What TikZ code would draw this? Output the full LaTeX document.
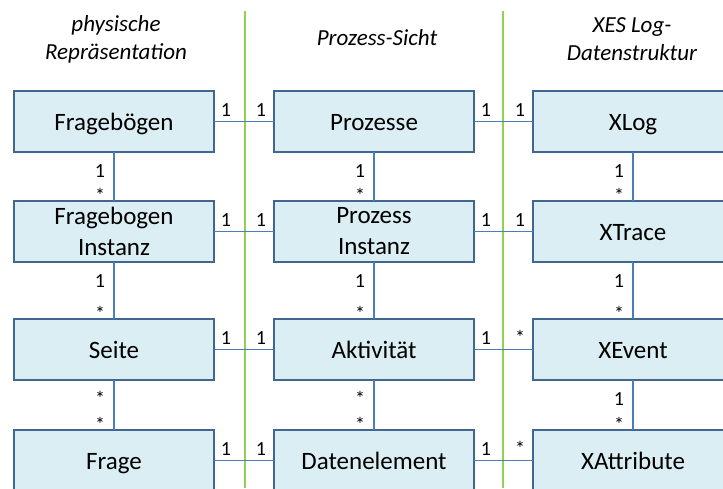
\documentclass[tikz,border=0pt]{standalone}
\usepackage{fontspec}
\setmainfont{Carlito}
\definecolor{boxfill}{HTML}{DAEEF3}
\definecolor{boxline}{HTML}{41668F}
\definecolor{linkblue}{HTML}{4A7EBB}
\definecolor{divgreen}{HTML}{92D050}
\begin{document}
\begin{tikzpicture}[x=1pt,y=-1pt,
  entity/.style={draw=boxline, line width=2pt, fill=boxfill,
    minimum width=200pt, minimum height=61pt, inner sep=0pt, outer sep=0pt,
    align=center, font=\fontsize{25}{31}\selectfont},
  oneline/.style={entity, text height=18pt, text depth=0pt},
  assoc/.style={draw=linkblue, line width=1.3pt},
  mult/.style={font=\fontsize{20}{20}\selectfont, inner sep=0pt, anchor=base},
  hs/.style={mult, at start, xshift=12pt, yshift=5pt},
  he/.style={mult, at end, xshift=-13pt, yshift=5pt},
  vs/.style={mult, at start, xshift=-14pt, yshift=-25pt},
  ve/.style={mult, at end, xshift=-14pt, yshift=-1pt},
  divider/.style={draw=divgreen, line width=1.3pt},
  heading/.style={font=\fontsize{23}{28}\selectfont\itshape, align=center}]

\clip (0,0) rectangle (723,488);
\fill[white] (0,0) rectangle (723,488);

% column dividers
\coordinate (d1t) at (245,11);
\coordinate (d1b) at (245,488);
\coordinate (d2t) at (503,11);
\coordinate (d2b) at (503,488);
\draw[divider] (d1t) -- (d1b);
\draw[divider] (d2t) -- (d2b);

% column headings
\node[heading] (h1) at (116,39) {physische\\Repräsentation};
\node[heading, anchor=base] (h2) at (377,45) {Prozess-Sicht};
\node[heading] (h3) at (632,39) {XES Log-\\Datenstruktur};

% entities
\node[oneline] (fb) at (114,121.5) {Fragebögen};
\node[entity]  (fi) at (114,231.5) {Fragebogen\\Instanz};
\node[oneline] (se) at (114,349.5) {Seite};
\node[oneline] (fr) at (114,460.5) {Frage};

\node[oneline] (pr) at (374,121.5) {Prozesse};
\node[entity]  (pi) at (374,231.5) {Prozess\\Instanz};
\node[oneline] (ak) at (374,349.5) {Aktivität};
\node[oneline] (de) at (374,460.5) {Datenelement};

\node[oneline] (xl) at (633,121.5) {XLog};
\node[oneline] (xt) at (633,231.5) {XTrace};
\node[oneline] (xe) at (633,349.5) {XEvent};
\node[oneline] (xa) at (633,460.5) {XAttribute};

% horizontal associations
\draw[assoc] (fb.east) -- node[hs]{1} node[he]{1} (pr.west);
\draw[assoc] (fi.east) -- node[hs]{1} node[he]{1} (pi.west);
\draw[assoc] (se.east) -- node[hs]{1} node[he]{1} (ak.west);
\draw[assoc] (fr.east) -- node[hs]{1} node[he]{1} (de.west);

\draw[assoc] (pr.east) -- node[hs]{1} node[he]{1} (xl.west);
\draw[assoc] (pi.east) -- node[hs]{1} node[he]{1} (xt.west);
\draw[assoc] (ak.east) -- node[hs]{1} node[he]{*} (xe.west);
\draw[assoc] (de.east) -- node[hs]{1} node[he]{*} (xa.west);

% vertical associations
\draw[assoc] (fb.south) -- node[vs]{1} node[ve]{*} (fi.north);
\draw[assoc] (fi.south) -- node[vs]{1} node[ve]{*} (se.north);
\draw[assoc] (se.south) -- node[vs]{*} node[ve]{*} (fr.north);

\draw[assoc] (pr.south) -- node[vs]{1} node[ve]{*} (pi.north);
\draw[assoc] (pi.south) -- node[vs]{1} node[ve]{*} (ak.north);
\draw[assoc] (ak.south) -- node[vs]{*} node[ve]{*} (de.north);

\draw[assoc] (xl.south) -- node[vs]{1} node[ve]{*} (xt.north);
\draw[assoc] (xt.south) -- node[vs]{1} node[ve]{*} (xe.north);
\draw[assoc] (xe.south) -- node[vs]{1} node[ve]{*} (xa.north);
\end{tikzpicture}
\end{document}
